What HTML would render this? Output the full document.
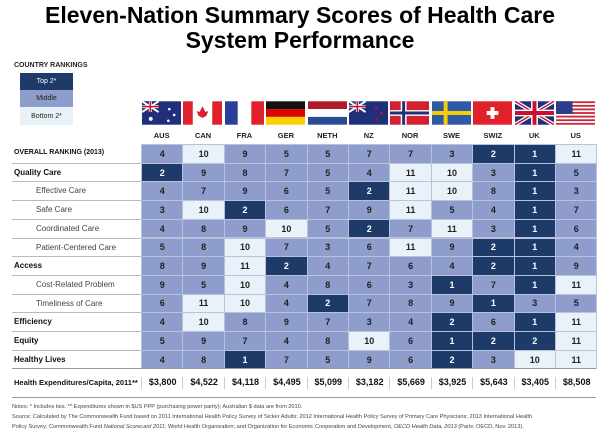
<!DOCTYPE html>
<html><head><meta charset="utf-8"><style>
body{margin:0;width:600px;height:435px;background:#fff;font-family:"Liberation Sans",sans-serif;position:relative;overflow:hidden}
.a{position:absolute}
.cell{position:absolute;box-sizing:border-box;border:1px solid #b8c2dc;font:bold 9px "Liberation Sans",sans-serif;display:flex;align-items:center;justify-content:center}
.lbl{position:absolute;font-size:8px;color:#444;white-space:nowrap}
.b{font-weight:bold;color:#111}
</style></head><body>
<div class="a" style="left:0;width:600px;top:3px;text-align:center;font:bold 23px/25px 'Liberation Sans',sans-serif;color:#000">Eleven-Nation Summary Scores of Health Care<br>System Performance</div>
<div class="a" style="left:14px;top:62px;font:bold 7px 'Liberation Sans';color:#222">COUNTRY RANKINGS</div>
<div class="a" style="left:20px;top:73px;width:53px;height:17px;background:#1e3a68;color:#fff;font-size:7px;display:flex;align-items:center;justify-content:center">Top 2*</div>
<div class="a" style="left:20px;top:90px;width:53px;height:17px;background:#8e9dcb;color:#222;font-size:7px;display:flex;align-items:center;justify-content:center">Middle</div>
<div class="a" style="left:20px;top:107px;width:53px;height:18px;background:#e8f2f8;color:#222;font-size:7px;display:flex;align-items:center;justify-content:center">Bottom 2*</div>
<div id="t"></div>
<div class="a" style="left:12px;top:402px;width:585px;font-size:5.6px;line-height:10px;color:#444">Notes: * Includes ties. ** Expenditures shown in $US PPP (purchasing power parity); Australian $ data are from 2010.<br>Source: Calculated by The Commonwealth Fund based on 2011 International Health Policy Survey of Sicker Adults; 2012 International Health Policy Survey of Primary Care Physicians; 2013 International Health<br>Policy Survey; Commonwealth Fund <i>National Scorecard 2011</i>; World Health Organization; and Organization for Economic Cooperation and Development, <i>OECD Health Data, 2013</i> (Paris: OECD, Nov. 2013).</div>
<script>
const countries=["AUS","CAN","FRA","GER","NETH","NZ","NOR","SWE","SWIZ","UK","US"];
const rowLabels=["OVERALL RANKING (2013)","Quality Care","Effective Care","Safe Care","Coordinated Care","Patient-Centered Care","Access","Cost-Related Problem","Timeliness of Care","Efficiency","Equity","Healthy Lives"];
const rowBold=[1,1,0,0,0,0,1,0,0,1,1,1];
const overall=[4,10,9,5,5,7,7,3,2,1,11];
const quality=[2,9,8,7,5,4,11,10,3,1,5];
const effective=[4,7,9,6,5,2,11,10,8,1,3];
const safe=[3,10,2,6,7,9,11,5,4,1,7];
const coordinated=[4,8,9,10,5,2,7,11,3,1,6];
const patient=[5,8,10,7,3,6,11,9,2,1,4];
const access=[8,9,11,2,4,7,6,4,2,1,9];
const cost=[9,5,10,4,8,6,3,1,7,1,11];
const timeliness=[6,11,10,4,2,7,8,9,1,3,5];
const efficiency=[4,10,8,9,7,3,4,2,6,1,11];
const equity=[5,9,7,4,8,10,6,1,2,2,11];
const healthy=[4,8,1,7,5,9,6,2,3,10,11];
const expend=["$3,800","$4,522","$4,118","$4,495","$5,099","$3,182","$5,669","$3,925","$5,643","$3,405","$8,508"];
const rows=[overall,quality,effective,safe,coordinated,patient,access,cost,timeliness,efficiency,equity,healthy];
const X0=141,CW=41.4,Y0=144,RH=18.7;
const t=document.getElementById('t');
const flags=[
'<rect width="40" height="24" fill="#1f2f7a"/><rect width="17" height="11" fill="#1f2f7a"/><path d="M0 0L17 11M17 0L0 11" stroke="#fff" stroke-width="2"/><path d="M8.5 0V11M0 5.5H17" stroke="#fff" stroke-width="3"/><path d="M8.5 0V11M0 5.5H17" stroke="#c8102e" stroke-width="1.5"/><circle cx="28" cy="8" r="1.3" fill="#fff"/><circle cx="33" cy="14" r="1.3" fill="#fff"/><circle cx="27" cy="20" r="1.3" fill="#fff"/><circle cx="9" cy="18" r="2" fill="#fff"/>',
'<rect width="40" height="24" fill="#fff"/><rect width="10" height="24" fill="#e0202a"/><rect x="30" width="10" height="24" fill="#e0202a"/><path d="M20 5L23 11L26 10L24 15L20 17L16 15L14 10L17 11Z" fill="#e0202a"/>',
'<rect width="40" height="24" fill="#fff"/><rect width="13" height="24" fill="#2a3f9a"/><rect x="27" width="13" height="24" fill="#e0202a"/>',
'<rect width="40" height="8" fill="#111"/><rect y="8" width="40" height="8" fill="#dd0000"/><rect y="16" width="40" height="8" fill="#ffce00"/>',
'<rect width="40" height="8" fill="#ae1c28"/><rect y="8" width="40" height="8" fill="#fff"/><rect y="16" width="40" height="8" fill="#2a4a94"/>',
'<rect width="40" height="24" fill="#1f2f7a"/><path d="M0 0L17 11M17 0L0 11" stroke="#fff" stroke-width="2"/><path d="M8.5 0V11M0 5.5H17" stroke="#fff" stroke-width="3"/><path d="M8.5 0V11M0 5.5H17" stroke="#c8102e" stroke-width="1.5"/><circle cx="28" cy="7" r="1.3" fill="#c8102e"/><circle cx="33" cy="12" r="1.3" fill="#c8102e"/><circle cx="28" cy="19" r="1.3" fill="#c8102e"/>',
'<rect width="40" height="24" fill="#d22030"/><path d="M14 0V24M0 12H40" stroke="#fff" stroke-width="6"/><path d="M14 0V24M0 12H40" stroke="#1f2f7a" stroke-width="3"/>',
'<rect width="40" height="24" fill="#2f5aa8"/><path d="M14 0V24M0 12H40" stroke="#f5d000" stroke-width="4"/>',
'<rect width="40" height="24" fill="#e0202a"/><path d="M20 6V18M14 12H26" stroke="#fff" stroke-width="4"/>',
'<rect width="40" height="24" fill="#1f2f7a"/><path d="M0 0L40 24M40 0L0 24" stroke="#fff" stroke-width="4"/><path d="M0 0L40 24M40 0L0 24" stroke="#c8102e" stroke-width="1.5"/><path d="M20 0V24M0 12H40" stroke="#fff" stroke-width="7"/><path d="M20 0V24M0 12H40" stroke="#c8102e" stroke-width="4"/>',
'<rect width="40" height="24" fill="#fff"/>'+[0,2,4,6,8,10,12].map(i=>`<rect y="${i*24/13}" width="40" height="${24/13}" fill="#c8283a"/>`).join('')+'<rect width="17" height="13" fill="#2a3f8a"/>'
];
let h='';
countries.forEach((c,i)=>{const x=X0+i*CW;
h+=`<svg class="a" style="left:${x+1}px;top:101px" width="39" height="24" viewBox="0 0 40 24">${flags[i]}</svg>`;
h+=`<div class="a" style="left:${x}px;width:${CW}px;top:131px;text-align:center;font:bold 7.5px 'Liberation Sans';color:#222">${c}</div>`;});
rowLabels.forEach((l,r)=>{const y=Y0+r*RH;
h+=`<div class="lbl${rowBold[r]?' b':''}" style="left:${rowBold[r]?14:36}px;top:${y+5}px;${r==0?'font-size:7px':''}">${l}</div>`;
if(r<11) h+=`<div class="a" style="left:12px;width:129px;top:${y+RH}px;height:1px;background:#bbb"></div>`;
rows[r].forEach((v,i)=>{const bg=v<=2?'#1e3a68':v>=10?'#e8f2f8':'#8e9dcb',col=v<=2?'#fff':'#222';
h+=`<div class="cell" style="left:${X0+i*CW}px;top:${y}px;width:${CW+1}px;height:${RH+1}px;background:${bg};color:${col}">${v}</div>`;});});
const ey=Y0+12*RH;
h+=`<div class="a" style="left:12px;width:584px;top:${ey}px;height:1px;background:#999"></div>`;
h+=`<div class="a" style="left:12px;width:584px;top:${ey+29}px;height:1px;background:#999"></div>`;
h+=`<div class="lbl b" style="left:14px;top:${ey+10}px;font-size:7.5px">Health Expenditures/Capita, 2011**</div>`;
expend.forEach((e,i)=>{h+=`<div class="a" style="left:${X0+i*CW}px;width:${CW}px;top:${ey+9}px;text-align:center;font:bold 9px 'Liberation Sans';color:#111;border-left:1px solid #ccc;height:12px">${e}</div>`;});
t.innerHTML=h;
</script>
</body></html>
